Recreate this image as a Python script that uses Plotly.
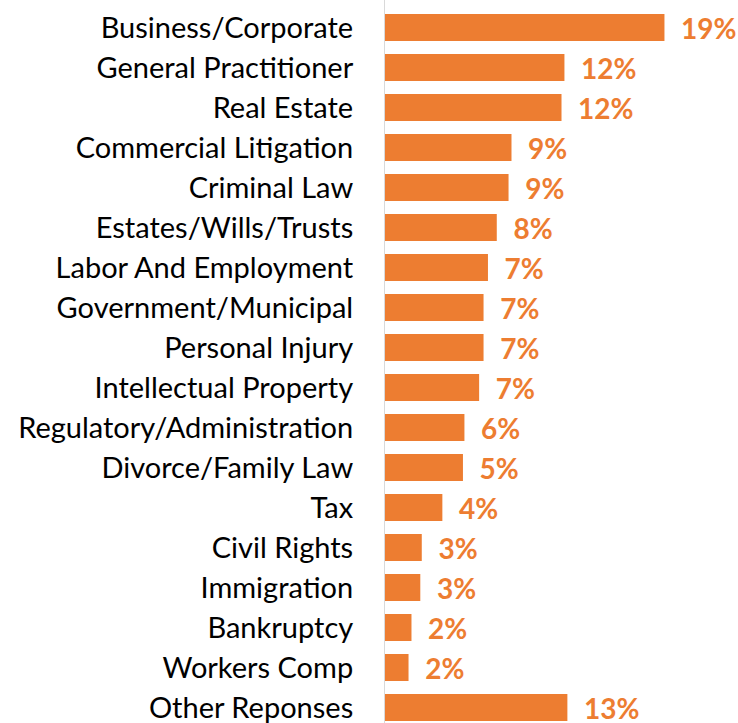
import plotly.graph_objects as go

categories = [
    "Business/Corporate", "General Practitioner", "Real Estate", "Commercial Litigation",
    "Criminal Law", "Estates/Wills/Trusts", "Labor And Employment", "Government/Municipal",
    "Personal Injury", "Intellectual Property", "Regulatory/Administration",
    "Divorce/Family Law", "Tax", "Civil Rights", "Immigration", "Bankruptcy",
    "Workers Comp", "Other Reponses",
]
values = [19.0, 12.2, 12.0, 8.6, 8.4, 7.6, 7.0, 6.7, 6.7, 6.4, 5.4, 5.3, 3.9, 2.5, 2.4, 1.8, 1.6, 12.4]
labels = ["19%", "12%", "12%", "9%", "9%", "8%", "7%", "7%", "7%", "7%", "6%", "5%",
          "4%", "3%", "3%", "2%", "2%", "13%"]

ORANGE = "#ED7D31"
NB = "\u00a0"

fig = go.Figure(go.Bar(
    y=categories,
    x=values,
    orientation="h",
    marker=dict(color=ORANGE, line=dict(width=0)),
    text=[NB * 2 + t for t in labels],
    textposition="outside",
    textfont=dict(family="Lato", size=28, color=ORANGE, weight="bold"),
    constraintext="none",
    cliponaxis=False,
    width=0.675,
    hoverinfo="skip",
))

fig.update_layout(
    width=738, height=723,
    margin=dict(l=385, r=0, t=0, b=0),
    paper_bgcolor="white", plot_bgcolor="white",
    showlegend=False,
    font=dict(family="Lato", color="black"),
    xaxis=dict(range=[0, 24.0], visible=False, fixedrange=True),
    yaxis=dict(
        categoryorder="array", categoryarray=categories,
        range=[17.3875, -0.6875],
        showline=True, linecolor="#D9D9D9", linewidth=1,
        showgrid=False, zeroline=False, ticks="",
        tickfont=dict(family="Lato", size=29, color="black"),
        ticklabelstandoff=25,
        fixedrange=True,
    ),
)

fig.write_html(
    "out.html",
    config={"displayModeBar": False, "staticPlot": True},
    post_script="document.body.style.margin='0';document.body.style.overflow='hidden';",
)
